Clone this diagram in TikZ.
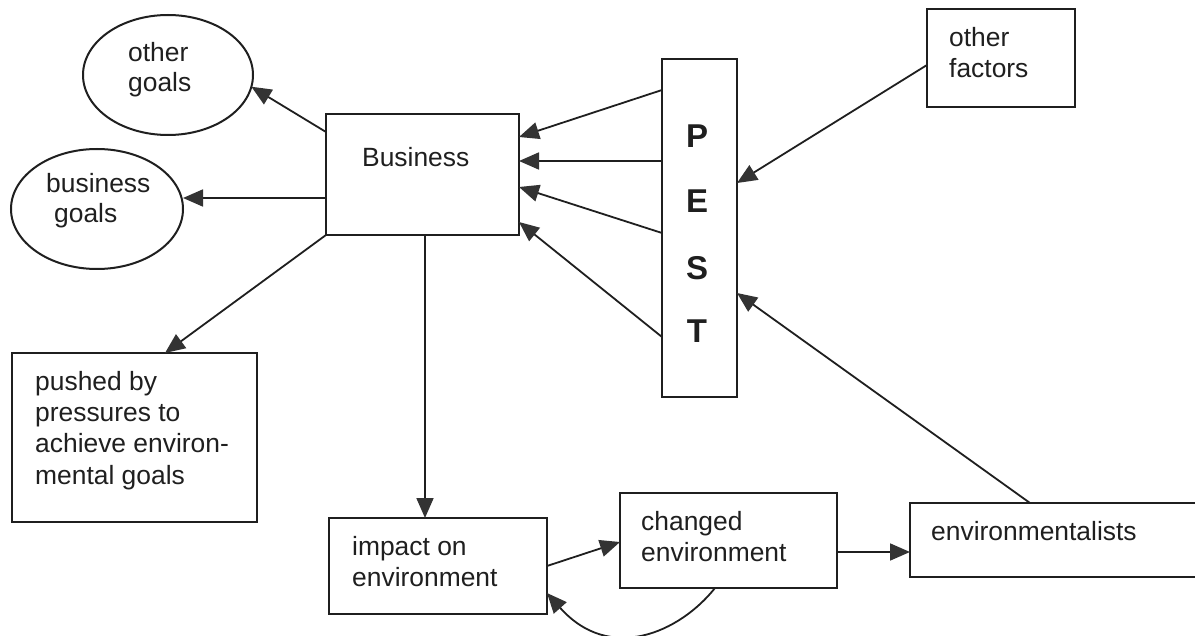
\documentclass[tikz,border=0pt]{standalone}
\usepackage{fontspec}
\setmainfont{Liberation Sans}
\usetikzlibrary{arrows.meta,shapes.geometric}

\colorlet{ink}{black!88}
\colorlet{tipink}{black!80}

\begin{document}
\begin{tikzpicture}[x=1pt,y=-1pt,
  box/.style={draw=ink, line width=2.2pt, rectangle, inner sep=0pt, outer sep=0pt, anchor=north west},
  oval/.style={draw=ink, line width=2pt, ellipse, inner sep=0pt, outer sep=0pt},
  txt/.style={font=\fontsize{26.4}{31}\selectfont, text=ink, inner sep=0pt, anchor=base west},
  pestletter/.style={font=\fontsize{33}{36}\selectfont\bfseries, text=ink, inner sep=0pt, anchor=base},
  arr/.style={draw=ink, line width=1.8pt, -{Triangle[length=20pt,width=17pt,color=tipink]}},
]
\useasboundingbox (0,0) rectangle (1195,636);
\fill[white] (0,0) rectangle (1195,636);
\clip (0,0) rectangle (1195,636);

% goals on the left
\node[oval, minimum width=170pt, minimum height=120pt] (og) at (168,75) {};
\node[txt] (og1) at (128,62) {other};
\node[txt] (og2) at (128,92) {goals};

\node[oval, minimum width=172pt, minimum height=120pt] (bg) at (97,209) {};
\node[txt] (bg1) at (46,193) {business};
\node[txt] (bg2) at (54,223) {goals};

% business
\node[box, minimum width=193pt, minimum height=121pt] (bus) at (326,114) {};
\node[txt] (bus1) at (362,167) {Business};

% PEST column
\node[box, minimum width=75pt, minimum height=338pt] (pest) at (662,59) {};
\node[pestletter] (pP) at (697,148) {P};
\node[pestletter] (pE) at (697,213) {E};
\node[pestletter] (pS) at (697,280) {S};
\node[pestletter] (pT) at (697,343) {T};

% other factors
\node[box, minimum width=148pt, minimum height=98pt] (of) at (927,9) {};
\node[txt] (of1) at (949,47) {other};
\node[txt] (of2) at (949,78) {factors};

% pressures
\node[box, minimum width=245pt, minimum height=169pt] (push) at (12,353) {};
\node[txt] (push1) at (35,391) {pushed by};
\node[txt] (push2) at (35,422) {pressures to};
\node[txt] (push3) at (35,453) {achieve environ-};
\node[txt] (push4) at (35,484) {mental goals};

% environment chain
\node[box, minimum width=218pt, minimum height=96pt] (imp) at (329,518) {};
\node[txt] (imp1) at (352,555) {impact on};
\node[txt] (imp2) at (352,586) {environment};

\node[box, minimum width=217pt, minimum height=95pt] (chg) at (620,493) {};
\node[txt] (chg1) at (641,530) {changed};
\node[txt] (chg2) at (641,561) {environment};

\node[box, minimum width=300pt, minimum height=74pt] (env) at (910,503) {};
\node[txt] (env1) at (931,540) {environmentalists};

% connectors
\draw[arr] (bus.west |- 0,132) -- (og.-8);
\draw[arr] (bus.west |- 0,198) -- (bg.east |- 0,198);
\draw[arr] (bus.south west) -- (165,0 |- push.north);
\draw[arr] (bus.south -| 425,0) -- (imp.north -| 425,0);

\draw[arr] (pest.west |- 0,90)  -- (bus.east |- 0,137);
\draw[arr] (pest.west |- 0,161) -- (bus.east |- 0,161);
\draw[arr] (pest.west |- 0,233) -- (bus.east |- 0,187);
\draw[arr] (pest.west |- 0,337) -- (bus.east |- 0,222);

\draw[arr] (of.west |- 0,65) -- (pest.east |- 0,183);
\draw[arr] (env.north -| 1030,0) -- (pest.east |- 0,293);

\draw[arr] (imp.east |- 0,566) -- (chg.west |- 0,542);
\draw[arr] (chg.east |- 0,552) -- (env.west |- 0,552);
\draw[arr] (chg.south -| 715,0) .. controls (680,632) and (610,664) .. (imp.east |- 0,593);
\end{tikzpicture}
\end{document}
